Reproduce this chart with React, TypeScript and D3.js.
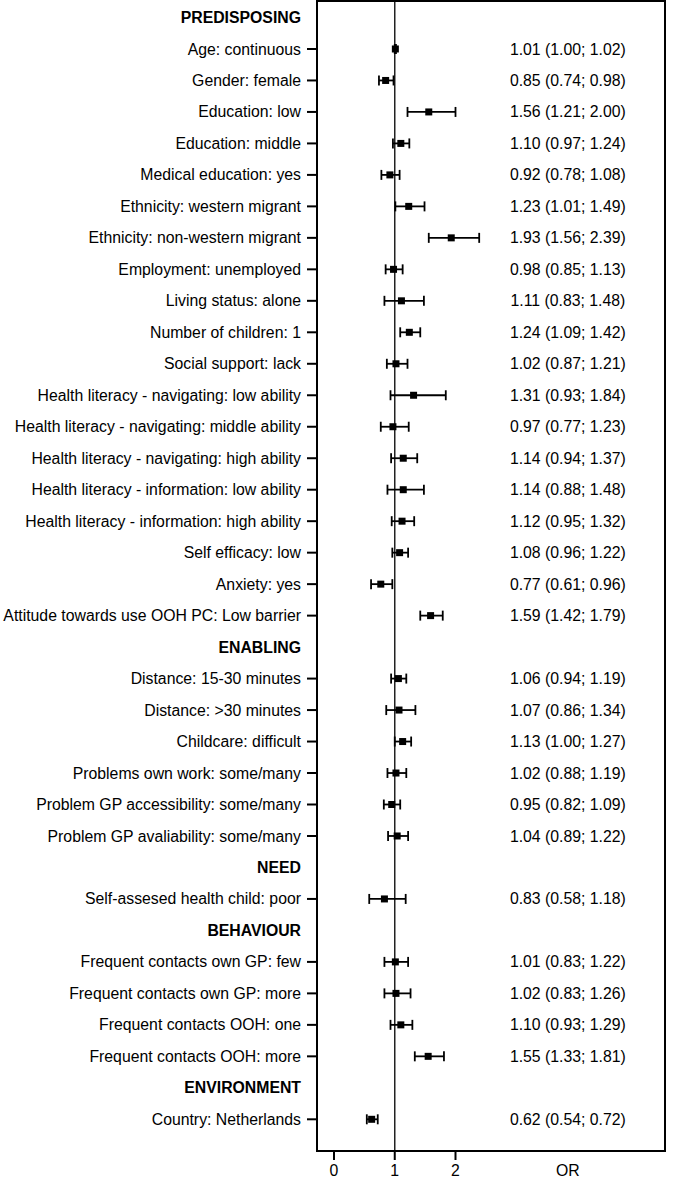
import React from "react";
import * as d3 from "d3";

const labels: string[] = [
  "PREDISPOSING",
  "Age: continuous",
  "Gender: female",
  "Education: low",
  "Education: middle",
  "Medical education: yes",
  "Ethnicity: western migrant",
  "Ethnicity: non-western migrant",
  "Employment: unemployed",
  "Living status: alone",
  "Number of children: 1",
  "Social support: lack",
  "Health literacy - navigating: low ability",
  "Health literacy - navigating: middle ability",
  "Health literacy - navigating: high ability",
  "Health literacy - information: low ability",
  "Health literacy - information: high ability",
  "Self efficacy: low",
  "Anxiety: yes",
  "Attitude towards use OOH PC: Low barrier",
  "ENABLING",
  "Distance: 15-30 minutes",
  "Distance: >30 minutes",
  "Childcare: difficult",
  "Problems own work: some/many",
  "Problem GP accessibility: some/many",
  "Problem GP avaliability:  some/many",
  "NEED",
  "Self-assesed health child: poor",
  "BEHAVIOUR",
  "Frequent contacts own GP: few",
  "Frequent contacts own GP: more",
  "Frequent contacts OOH: one",
  "Frequent contacts OOH: more",
  "ENVIRONMENT",
  "Country: Netherlands",
];

// null = header row
const orValues: (number | null)[] = [
  null, 1.01, 0.85, 1.56, 1.10, 0.92, 1.23, 1.93, 0.98, 1.11, 1.24, 1.02, 1.31, 0.97, 1.14, 1.14, 1.12, 1.08, 0.77, 1.59,
  null, 1.06, 1.07, 1.13, 1.02, 0.95, 1.04,
  null, 0.83,
  null, 1.01, 1.02, 1.10, 1.55,
  null, 0.62,
];
const lowerCI: (number | null)[] = [
  null, 1.00, 0.74, 1.21, 0.97, 0.78, 1.01, 1.56, 0.85, 0.83, 1.09, 0.87, 0.93, 0.77, 0.94, 0.88, 0.95, 0.96, 0.61, 1.42,
  null, 0.94, 0.86, 1.00, 0.88, 0.82, 0.89,
  null, 0.58,
  null, 0.83, 0.83, 0.93, 1.33,
  null, 0.54,
];
const upperCI: (number | null)[] = [
  null, 1.02, 0.98, 2.00, 1.24, 1.08, 1.49, 2.39, 1.13, 1.48, 1.42, 1.21, 1.84, 1.23, 1.37, 1.48, 1.32, 1.22, 0.96, 1.79,
  null, 1.19, 1.34, 1.27, 1.19, 1.09, 1.22,
  null, 1.18,
  null, 1.22, 1.26, 1.29, 1.81,
  null, 0.72,
];

const xTicks = [0, 1, 2];
const orColumnValue = 3.85;

const fmt = d3.format(".2f");

export default function App() {
  const W = 685;
  const H = 1179;
  const frameLeft = 317;
  const frameRight = 665;
  const frameTop = 1;
  const frameBottom = 1151;
  const font = "'Liberation Sans', Arial, sans-serif";
  const fs = 15.8;

  const x = d3.scaleLinear().domain([0, 2]).range([334, 455.5]);
  const y = d3.scalePoint<number>()
    .domain(d3.range(labels.length))
    .range([17.5, 1119.3]);

  const cap = 5;
  const sq = 7;

  return (
    <svg width={W} height={H} style={{ position: "absolute", left: 0, top: 0 }} fontFamily={font}>
      <rect x={0} y={0} width={W} height={H} fill="#fff" />
      {/* reference line at OR = 1 */}
      <line x1={x(1)} x2={x(1)} y1={frameTop} y2={frameBottom} stroke="#222" strokeWidth={1.5} />
      {/* frame */}
      <rect x={frameLeft} y={frameTop} width={frameRight - frameLeft} height={frameBottom - frameTop}
        fill="none" stroke="#000" strokeWidth={2} />
      {labels.map((lab, i) => {
        const yy = y(i)!;
        const isHeader = orValues[i] === null;
        return (
          <g key={i}>
            <text x={301} y={yy} dy="0.35em" textAnchor="end" fontSize={fs}
              fontWeight={isHeader ? "bold" : "normal"} fill="#000">{lab}</text>
            {!isHeader && (
              <>
                <line x1={307} x2={frameLeft} y1={yy} y2={yy} stroke="#000" strokeWidth={2} />
                <line x1={x(lowerCI[i]!)} x2={x(upperCI[i]!)} y1={yy} y2={yy} stroke="#000" strokeWidth={1.8} />
                <line x1={x(lowerCI[i]!)} x2={x(lowerCI[i]!)} y1={yy - cap} y2={yy + cap} stroke="#000" strokeWidth={1.8} />
                <line x1={x(upperCI[i]!)} x2={x(upperCI[i]!)} y1={yy - cap} y2={yy + cap} stroke="#000" strokeWidth={1.8} />
                <rect x={x(orValues[i]!) - sq / 2} y={yy - sq / 2} width={sq} height={sq} fill="#000" />
                <text x={x(orColumnValue)} y={yy} dy="0.35em" textAnchor="middle" fontSize={fs} fill="#000">
                  {`${fmt(orValues[i]!)} (${fmt(lowerCI[i]!)}; ${fmt(upperCI[i]!)})`}
                </text>
              </>
            )}
          </g>
        );
      })}
      {/* x axis ticks */}
      {xTicks.map((t) => (
        <g key={t}>
          <line x1={x(t)} x2={x(t)} y1={frameBottom} y2={frameBottom + 9} stroke="#000" strokeWidth={2} />
          <text x={x(t)} y={1176} textAnchor="middle" fontSize={fs} fill="#000">{t}</text>
        </g>
      ))}
      <text x={x(orColumnValue)} y={1176} textAnchor="middle" fontSize={fs} fill="#000">OR</text>
    </svg>
  );
}
